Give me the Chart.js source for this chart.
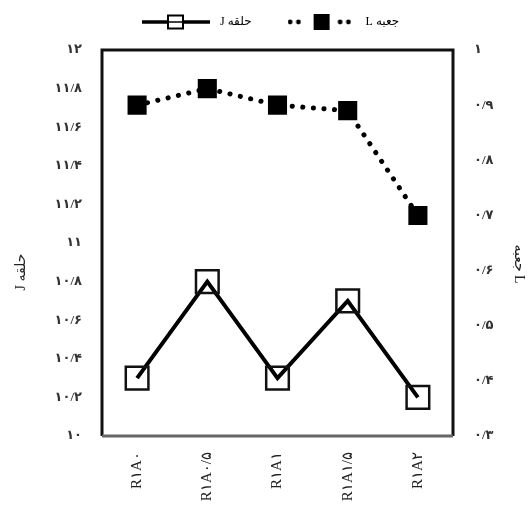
<!DOCTYPE html>
<html>
<head>
<meta charset="utf-8">
<script src="https://cdn.jsdelivr.net/npm/chart.js@4/dist/chart.umd.min.js"></script>
<style>
html,body{margin:0;padding:0;background:#fff;}
#wrap{width:531px;height:515px;}
</style>
</head>
<body>
<div id="wrap"><canvas id="c" width="531" height="515"></canvas></div>
<script>
const categories = ['R۱A۰', 'R۱A۰/۵', 'R۱A۱', 'R۱A۱/۵', 'R۱A۲'];
const ringJ = [10.30, 10.80, 10.30, 10.70, 10.20];
const boxL = [0.90, 0.93, 0.90, 0.89, 0.70];
const leftTickLabels = ['۱۰','۱۰/۲','۱۰/۴','۱۰/۶','۱۰/۸','۱۱','۱۱/۲','۱۱/۴','۱۱/۶','۱۱/۸','۱۲'];
const rightTickLabels = ['۰/۳','۰/۴','۰/۵','۰/۶','۰/۷','۰/۸','۰/۹','۱'];
const seriesJName = 'J حلقه';
const seriesLName = 'L جعبه';
const leftTitle = 'J حلقه';
const rightTitle = 'جعبه L';

const FONT = "'Liberation Serif', 'DejaVu Serif', 'DejaVu Sans', serif";

function legendIcon(dotted) {
  const cv = document.createElement('canvas');
  cv.width = 72; cv.height = 20;
  const g = cv.getContext('2d');
  g.strokeStyle = '#000'; g.fillStyle = '#000';
  if (dotted) {
    [2.5, 10.8, 52.5, 60.8].forEach(x => {
      g.beginPath(); g.arc(x, 10, 2.4, 0, Math.PI * 2); g.fill();
    });
    g.fillRect(26, 2, 16, 16);
  } else {
    g.lineWidth = 3.5;
    g.beginPath(); g.moveTo(0, 10); g.lineTo(68, 10); g.stroke();
    g.fillStyle = '#fff';
    g.fillRect(26, 3.5, 15, 13);
    g.lineWidth = 2;
    g.strokeRect(26, 3.5, 15, 13);
    g.lineWidth = 1.5;
    g.beginPath(); g.moveTo(26, 10); g.lineTo(41, 10); g.stroke();
  }
  return cv;
}

const LEGEND_PAD = 36;
const LEGEND_FONT = 12;
const framePlugin = {
  id: 'frame',
  beforeLayout(chart) {
    const lg = chart.legend;
    if (lg && !lg._patched) {
      const orig = lg.fit;
      lg.fit = function () { orig.call(this); this.height = 50; };
      lg._patched = true;
    }
  },
  afterLayout(chart) {
    const lg = chart.legend;
    if (lg) {
      lg.top = 22 - LEGEND_FONT / 2 - LEGEND_PAD;
      lg.left = 142 - LEGEND_PAD;
    }
  },
  afterDatasetsDraw(chart) {
    const a = chart.chartArea, ctx = chart.ctx;
    ctx.save();
    ctx.lineWidth = 3;
    ctx.strokeStyle = '#111';
    ctx.beginPath();
    ctx.moveTo(a.left, a.bottom); ctx.lineTo(a.left, a.top); ctx.lineTo(a.right, a.top); ctx.lineTo(a.right, a.bottom);
    ctx.stroke();
    ctx.strokeStyle = '#666';
    ctx.beginPath(); ctx.moveTo(a.left, a.bottom); ctx.lineTo(a.right, a.bottom); ctx.stroke();
    ctx.restore();
  },
  afterDraw(chart) {
    const a = chart.chartArea, ctx = chart.ctx;
    const mid = (a.top + a.bottom) / 2;
    ctx.save();
    ctx.fillStyle = '#222';
    ctx.font = '14px ' + FONT;
    ctx.textAlign = 'center';
    ctx.textBaseline = 'middle';
    ctx.translate(21, mid + 29);
    ctx.rotate(-Math.PI / 2);
    ctx.fillText(leftTitle, 0, 0);
    ctx.restore();
    ctx.save();
    ctx.fillStyle = '#222';
    ctx.font = '14px ' + FONT;
    ctx.textAlign = 'center';
    ctx.textBaseline = 'middle';
    ctx.translate(519, mid + 21);
    ctx.rotate(Math.PI / 2);
    ctx.fillText(rightTitle, 0, 0);
    ctx.restore();
  }
};

new Chart(document.getElementById('c'), {
  type: 'line',
  data: {
    labels: categories,
    datasets: [
      {
        label: seriesJName,
        data: ringJ,
        yAxisID: 'y',
        borderColor: '#000',
        borderWidth: 4,
        pointStyle: 'rect',
        pointRadius: 16,
        pointBorderWidth: 2.5,
        pointBorderColor: '#111',
        pointBackgroundColor: 'rgba(0,0,0,0)',
        tension: 0,
        fill: false,
        legendIcon: legendIcon(false)
      },
      {
        label: seriesLName,
        data: boxL,
        yAxisID: 'y1',
        borderColor: '#000',
        borderWidth: 5,
        borderDash: [0.1, 10.5],
        borderCapStyle: 'round',
        pointStyle: 'rect',
        pointRadius: 13.5,
        pointBorderWidth: 0,
        pointBackgroundColor: '#000',
        tension: 0,
        fill: false,
        legendIcon: legendIcon(true)
      }
    ]
  },
  options: {
    responsive: false,
    animation: false,
    layout: { padding: { top: 0, left: 8, right: 4, bottom: 0 } },
    plugins: {
      tooltip: { enabled: false },
      legend: {
        position: 'top',
        align: 'start',
        labels: {
          usePointStyle: true,
          pointStyleWidth: 72,
          padding: LEGEND_PAD,
          color: '#000',
          font: { family: FONT, size: LEGEND_FONT },
          generateLabels(chart) {
            return chart.data.datasets.map((d, i) => ({
              text: d.label,
              pointStyle: d.legendIcon,
              fillStyle: '#000',
              strokeStyle: '#000',
              lineWidth: 0,
              hidden: false,
              datasetIndex: i,
              fontColor: '#000'
            }));
          }
        }
      }
    },
    scales: {
      x: {
        offset: true,
        grid: { display: false },
        border: { display: false },
        ticks: {
          color: '#222',
          font: { family: FONT, size: 15 },
          minRotation: 90,
          maxRotation: 90,
          padding: 8
        },
        afterFit(s) { s.height = 79; }
      },
      y: {
        position: 'left',
        min: 10, max: 12,
        grid: { display: false },
        border: { display: false },
        ticks: {
          stepSize: 0.2,
          color: '#333',
          padding: 12,
          font: { family: FONT, size: 13, weight: 'bold' },
          callback: (v, i) => leftTickLabels[i]
        },
        afterFit(s) { s.width = 94; }
      },
      y1: {
        position: 'right',
        min: 0.3, max: 1,
        grid: { display: false },
        border: { display: false },
        ticks: {
          stepSize: 0.1,
          color: '#333',
          padding: 13,
          font: { family: FONT, size: 13, weight: 'bold' },
          callback: (v, i) => rightTickLabels[i]
        },
        afterFit(s) { s.width = 74; }
      }
    }
  },
  plugins: [framePlugin]
});
</script>
</body>
</html>
